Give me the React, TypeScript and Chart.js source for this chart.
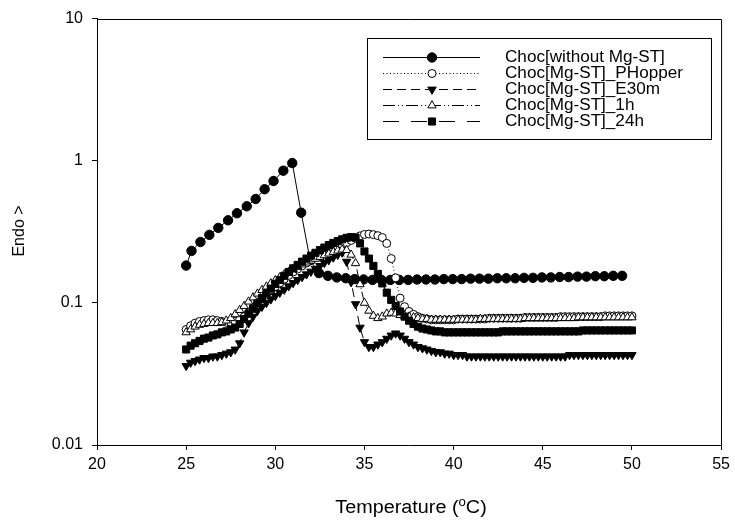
import React, { useEffect, useRef } from 'react';
import { Chart, registerables } from 'chart.js';
import { drawPoint } from 'chart.js/helpers';

Chart.register(...registerables);

const FONT = '"Liberation Sans", Arial, Helvetica, sans-serif';

const seriesNames = [
  'Choc[without Mg-ST]',
  'Choc[Mg-ST]_PHopper',
  'Choc[Mg-ST]_E30m',
  'Choc[Mg-ST]_1h',
  'Choc[Mg-ST]_24h',
];

// Choc[without Mg-ST]
const tempWithout = [
  25, 25.3, 25.8, 26.3, 26.8, 27.35, 27.85, 28.4, 28.9, 29.4, 29.9, 30.45, 30.95,
  31.45, 31.95, 32.45, 32.95, 33.45, 33.95, 34.45, 34.95, 35.45, 35.95, 36.45, 36.95,
  37.45, 37.95, 38.45, 38.95, 39.45, 39.95, 40.45, 40.95, 41.45, 41.95, 42.45, 42.95,
  43.45, 43.95, 44.45, 44.95, 45.45, 45.95, 46.45, 46.95, 47.45, 47.95, 48.45, 48.95, 49.45,
];
const valWithout = [
  0.183, 0.232, 0.268, 0.301, 0.337, 0.381, 0.427, 0.478, 0.538, 0.63, 0.72, 0.851, 0.963,
  0.431, 0.2, 0.162, 0.155, 0.151, 0.149, 0.147, 0.146, 0.145, 0.145, 0.145, 0.145,
  0.145, 0.146, 0.146, 0.146, 0.147, 0.147, 0.147, 0.148, 0.148, 0.148, 0.149, 0.149,
  0.149, 0.15, 0.15, 0.151, 0.151, 0.152, 0.152, 0.153, 0.153, 0.154, 0.154, 0.155, 0.155,
];

// Mg-ST series share one temperature grid
const tempsMg = [
  25, 25.25, 25.5, 25.75, 26, 26.25, 26.5, 26.75, 27, 27.25, 27.5, 27.75,
  28, 28.25, 28.5, 28.75, 29, 29.25, 29.5, 29.75, 30, 30.25, 30.5, 30.75,
  31, 31.25, 31.5, 31.75, 32, 32.25, 32.5, 32.75, 33, 33.25, 33.5, 33.75,
  34, 34.25, 34.5, 34.75, 35, 35.25, 35.5, 35.75, 36, 36.25, 36.5, 36.75,
  37, 37.25, 37.5, 37.75, 38, 38.25, 38.5, 38.75, 39, 39.25, 39.5, 39.75,
  40, 40.25, 40.5, 40.75, 41, 41.25, 41.5, 41.75, 42, 42.25, 42.5, 42.75,
  43, 43.25, 43.5, 43.75, 44, 44.25, 44.5, 44.75, 45, 45.25, 45.5, 45.75,
  46, 46.25, 46.5, 46.75, 47, 47.25, 47.5, 47.75, 48, 48.25, 48.5, 48.75,
  49, 49.25, 49.5, 49.75, 50,
];

const valPHopper = [
  0.065, 0.069, 0.072, 0.074, 0.075, 0.076, 0.076, 0.075, 0.074, 0.073, 0.073, 0.074,
  0.076, 0.08, 0.085, 0.092, 0.1, 0.107, 0.114, 0.122, 0.13, 0.138, 0.147, 0.156,
  0.165, 0.173, 0.182, 0.191, 0.2, 0.209, 0.218, 0.227, 0.235, 0.243, 0.25, 0.258,
  0.265, 0.275, 0.285, 0.296, 0.303, 0.305, 0.302, 0.297, 0.288, 0.262, 0.205, 0.15,
  0.108, 0.094, 0.087, 0.083, 0.08, 0.078, 0.077, 0.076, 0.076, 0.076, 0.076, 0.076,
  0.076, 0.077, 0.077, 0.077, 0.077, 0.077, 0.077, 0.077, 0.078, 0.078, 0.078, 0.078,
  0.078, 0.078, 0.078, 0.078, 0.079, 0.079, 0.079, 0.079, 0.079, 0.079, 0.079, 0.079,
  0.08, 0.08, 0.08, 0.08, 0.08, 0.08, 0.08, 0.08, 0.08, 0.08, 0.081, 0.081,
  0.081, 0.081, 0.081, 0.081, 0.081,
];

const valE30m = [
  0.036, 0.038, 0.039, 0.04, 0.041, 0.041, 0.042, 0.042, 0.043, 0.044, 0.045, 0.047,
  0.052, 0.062, 0.072, 0.08, 0.088, 0.094, 0.1, 0.106, 0.112, 0.118, 0.124, 0.131,
  0.138, 0.145, 0.152, 0.159, 0.166, 0.174, 0.182, 0.191, 0.2, 0.209, 0.218, 0.226,
  0.195, 0.14, 0.098, 0.067, 0.053, 0.049, 0.049, 0.051, 0.053, 0.056, 0.059, 0.061,
  0.059, 0.056, 0.053, 0.051, 0.049, 0.048, 0.047, 0.046, 0.045, 0.045, 0.044, 0.044,
  0.043, 0.043, 0.043, 0.042, 0.042, 0.042, 0.042, 0.042, 0.042, 0.042, 0.042, 0.042,
  0.042, 0.042, 0.042, 0.042, 0.042, 0.042, 0.042, 0.042, 0.042, 0.042, 0.042, 0.042,
  0.042, 0.042, 0.043, 0.043, 0.043, 0.043, 0.043, 0.043, 0.043, 0.043, 0.043, 0.043,
  0.043, 0.043, 0.043, 0.043, 0.043,
];

const val1h = [
  0.062, 0.065, 0.068, 0.07, 0.071, 0.072, 0.072, 0.072, 0.073, 0.075, 0.078, 0.083,
  0.089, 0.095, 0.102, 0.109, 0.116, 0.123, 0.13, 0.137, 0.144, 0.151, 0.158, 0.165,
  0.172, 0.179, 0.186, 0.192, 0.198, 0.204, 0.21, 0.216, 0.222, 0.228, 0.233, 0.237,
  0.235, 0.218, 0.19, 0.135, 0.1, 0.088, 0.081, 0.078, 0.08, 0.084, 0.085, 0.084,
  0.082, 0.081, 0.08, 0.079, 0.078, 0.077, 0.077, 0.076, 0.076, 0.076, 0.076, 0.076,
  0.076, 0.076, 0.076, 0.076, 0.076, 0.076, 0.077, 0.077, 0.077, 0.077, 0.077, 0.077,
  0.077, 0.077, 0.077, 0.077, 0.078, 0.078, 0.078, 0.078, 0.078, 0.078, 0.078, 0.078,
  0.078, 0.078, 0.078, 0.078, 0.079, 0.079, 0.079, 0.079, 0.079, 0.079, 0.079, 0.079,
  0.079, 0.079, 0.079, 0.079, 0.079,
];

const val24h = [
  0.047, 0.05, 0.052, 0.054, 0.056, 0.057, 0.059, 0.06, 0.062, 0.063, 0.065, 0.067,
  0.071, 0.077, 0.084, 0.091, 0.099, 0.108, 0.117, 0.126, 0.136, 0.145, 0.155, 0.165,
  0.175, 0.185, 0.195, 0.205, 0.215, 0.225, 0.235, 0.245, 0.255, 0.264, 0.272, 0.28,
  0.287, 0.29, 0.288, 0.262, 0.23, 0.205, 0.182, 0.16, 0.137, 0.118, 0.105, 0.095,
  0.087, 0.08, 0.075, 0.071, 0.068, 0.066, 0.065, 0.064, 0.063, 0.063, 0.062, 0.062,
  0.062, 0.062, 0.062, 0.062, 0.062, 0.062, 0.062, 0.062, 0.062, 0.062, 0.062, 0.063,
  0.063, 0.063, 0.063, 0.063, 0.063, 0.063, 0.063, 0.063, 0.063, 0.063, 0.063, 0.063,
  0.063, 0.063, 0.063, 0.063, 0.063, 0.064, 0.064, 0.064, 0.064, 0.064, 0.064, 0.064,
  0.064, 0.064, 0.064, 0.064, 0.064,
];

const xTicks = [20, 25, 30, 35, 40, 45, 50, 55];
const yTicks = [0.01, 0.1, 1, 10];
const yTickLabels = ['0.01', '0.1', '1', '10'];

const toPoints = (xs: number[], ys: number[]) => xs.map((x, i) => ({ x, y: ys[i] }));

const overlayPlugin = {
  id: 'overlay',
  afterDraw(chart: any) {
    const ctx: CanvasRenderingContext2D = chart.ctx;
    const { left, top, right, bottom } = chart.chartArea;
    ctx.save();
    ctx.strokeStyle = '#000';
    ctx.lineWidth = 1;
    ctx.setLineDash([]);
    // top and right frame lines
    ctx.beginPath();
    ctx.moveTo(left, Math.round(top) + 0.5);
    ctx.lineTo(right + 0.5, Math.round(top) + 0.5);
    ctx.lineTo(Math.round(right) + 0.5, bottom);
    ctx.stroke();

    // legend box
    const bx = 367, by = 38, bw = 344, bh = 101;
    ctx.fillStyle = '#fff';
    ctx.fillRect(bx, by, bw, bh);
    ctx.strokeRect(bx + 0.5, by + 0.5, bw, bh);
    ctx.textAlign = 'left';
    ctx.textBaseline = 'middle';
    chart.data.datasets.forEach((ds: any, i: number) => {
      const y = 57 + i * 16;
      ctx.strokeStyle = '#000';
      ctx.lineWidth = 1;
      ctx.setLineDash(ds.borderDash || []);
      ctx.beginPath();
      ctx.moveTo(383, y + 0.5);
      ctx.lineTo(480, y + 0.5);
      ctx.stroke();
      ctx.setLineDash([]);
      ctx.fillStyle = ds.pointBackgroundColor;
      ctx.strokeStyle = '#000';
      drawPoint(ctx, {
        pointStyle: ds.pointStyle,
        rotation: ds.pointRotation || 0,
        radius: ds.pointRadius,
        borderWidth: 1,
      } as any, 432, y + 0.5);
      ctx.fillStyle = '#000';
      ctx.font = `16px ${FONT}`;
      ctx.save();
      ctx.translate(505, y + 1);
      ctx.scale(1.07, 1);
      ctx.fillText(ds.label, 0, 0);
      ctx.restore();
    });

    // axis titles
    ctx.fillStyle = '#000';
    ctx.font = `16px ${FONT}`;
    ctx.save();
    ctx.translate(20, 231);
    ctx.rotate(-Math.PI / 2);
    ctx.textAlign = 'center';
    ctx.textBaseline = 'middle';
    ctx.fillText('Endo >', 0, 0);
    ctx.restore();

    const part1 = 'Temperature (';
    const sup = 'o';
    const part3 = 'C)';
    const big = `18px ${FONT}`;
    const small = `12px ${FONT}`;
    const sx = 1.1;
    ctx.font = big;
    const w1 = ctx.measureText(part1).width;
    const w3 = ctx.measureText(part3).width;
    ctx.font = small;
    const w2 = ctx.measureText(sup).width;
    const total = (w1 + w2 + w3) * sx;
    const base = 513;
    ctx.save();
    ctx.translate(411 - total / 2, base);
    ctx.scale(sx, 1);
    ctx.textAlign = 'left';
    ctx.textBaseline = 'alphabetic';
    ctx.font = big;
    ctx.fillText(part1, 0, 0);
    ctx.font = small;
    ctx.fillText(sup, w1, -7);
    ctx.font = big;
    ctx.fillText(part3, w1 + w2, 0);
    ctx.restore();
    ctx.restore();
  },
};

export default function App() {
  const ref = useRef<HTMLCanvasElement>(null);
  useEffect(() => {
    document.body.style.margin = '0';
    const canvas = ref.current!;
    const common = {
      showLine: true,
      borderColor: '#000',
      borderWidth: 1,
      pointBorderColor: '#000',
      pointBorderWidth: 1,
      fill: false,
      tension: 0,
    };
    const chart = new Chart(canvas, {
      type: 'scatter',
      data: {
        datasets: [
          {
            ...common,
            label: seriesNames[0],
            data: toPoints(tempWithout, valWithout),
            pointStyle: 'circle',
            pointRadius: 4.7,
            pointBackgroundColor: '#000',
            borderDash: [],
            order: 5,
          },
          {
            ...common,
            label: seriesNames[1],
            data: toPoints(tempsMg, valPHopper),
            pointStyle: 'circle',
            pointRadius: 4,
            pointBackgroundColor: '#fff',
            borderDash: [1, 2.5],
            order: 4,
          },
          {
            ...common,
            label: seriesNames[2],
            data: toPoints(tempsMg, valE30m),
            pointStyle: 'triangle',
            pointRotation: 180,
            pointRadius: 4.8,
            pointBackgroundColor: '#000',
            borderDash: [9, 5],
            order: 3,
          },
          {
            ...common,
            label: seriesNames[3],
            data: toPoints(tempsMg, val1h),
            pointStyle: 'triangle',
            pointRadius: 4.8,
            pointBackgroundColor: '#fff',
            borderDash: [12, 3, 1, 3, 1, 3],
            order: 2,
          },
          {
            ...common,
            label: seriesNames[4],
            data: toPoints(tempsMg, val24h),
            pointStyle: 'rect',
            pointRadius: 5,
            pointBackgroundColor: '#000',
            borderDash: [16, 12],
            order: 1,
          },
        ] as any,
      },
      options: {
        animation: false,
        responsive: false,
        devicePixelRatio: 1,
        layout: { padding: { top: 18, right: 9, left: 0, bottom: 0 } },
        plugins: { legend: { display: false }, tooltip: { enabled: false } },
        scales: {
          x: {
            type: 'linear',
            min: 20,
            max: 55,
            afterBuildTicks: (scale: any) => {
              scale.ticks = xTicks.map((v) => ({ value: v }));
            },
            afterFit: (scale: any) => {
              scale.height = 78;
            },
            ticks: {
              color: '#000',
              font: { family: FONT, size: 16 },
              padding: 5,
              maxRotation: 0,
              autoSkip: false,
              callback: (v: any) => String(v),
            },
            grid: { display: true, drawOnChartArea: false, drawTicks: true, tickLength: 5, color: '#000', lineWidth: 1 },
            border: { display: true, color: '#000', width: 1 },
          },
          y: {
            type: 'logarithmic',
            min: 0.01,
            max: 10,
            afterBuildTicks: (scale: any) => {
              scale.ticks = yTicks.map((v) => ({ value: v }));
            },
            afterFit: (scale: any) => {
              scale.width = 97;
            },
            ticks: {
              color: '#000',
              font: { family: FONT, size: 16 },
              padding: 9,
              autoSkip: false,
              callback: (v: any) => {
                const i = yTicks.indexOf(Number(v));
                return i >= 0 ? yTickLabels[i] : '';
              },
            },
            grid: { display: true, drawOnChartArea: false, drawTicks: true, tickLength: 5, color: '#000', lineWidth: 1 },
            border: { display: true, color: '#000', width: 1 },
          },
        },
      } as any,
      plugins: [overlayPlugin],
    });
    return () => chart.destroy();
  }, []);
  return (
    <div style={{ position: 'fixed', left: 0, top: 0, width: 735, height: 523, background: '#fff' }}>
      <canvas ref={ref} width={735} height={523} style={{ width: 735, height: 523 }} />
    </div>
  );
}
